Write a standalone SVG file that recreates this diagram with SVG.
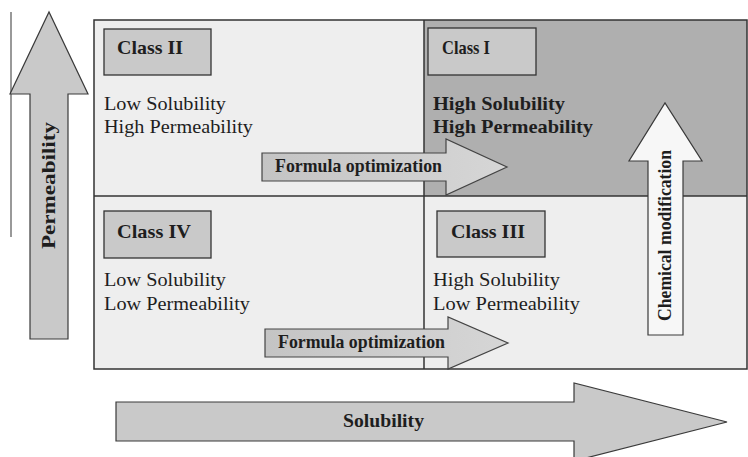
<svg xmlns="http://www.w3.org/2000/svg" width="748" height="457" viewBox="0 0 748 457">
<defs>
<style>
.q{fill:#eeeeee;stroke:none}
.qd{fill:#afafaf;stroke:none}
.grid{stroke:#333;stroke-width:1.5;fill:none}
.cls{fill:#c9c9c9;stroke:#333;stroke-width:1.3}
.t{font-family:"Liberation Serif","Times New Roman",serif;fill:#1e1e1e;font-size:19px}
.b{font-weight:bold}
.arr{fill:#c9c9c9;stroke:#3a3a3a;stroke-width:1.2}
.arrw{fill:#f7f7f7;stroke:#3a3a3a;stroke-width:1.2}
</style>
<linearGradient id="fg" x1="0" y1="0" x2="1" y2="0">
<stop offset="0" stop-color="#c4c4c4"/>
<stop offset="1" stop-color="#d6d6d6"/>
</linearGradient>
</defs>
<rect width="748" height="457" fill="#ffffff"/>
<line x1="11" y1="12" x2="11" y2="237" stroke="#555" stroke-width="1.2"/>

<g id="class-II">
<rect class="q" x="94" y="20" width="330" height="176"/>
<rect class="cls" x="104" y="29" width="107" height="46"/>
<text class="t b" x="117" y="54" textLength="66" lengthAdjust="spacingAndGlyphs" font-size="18.5">Class II</text>
<text class="t" x="104" y="110" textLength="122" lengthAdjust="spacingAndGlyphs">Low Solubility</text>
<text class="t" x="104" y="133" textLength="149" lengthAdjust="spacingAndGlyphs">High Permeability</text>
</g>
<g id="class-I">
<rect class="qd" x="424" y="20" width="323" height="176"/>
<rect class="cls" x="428" y="28" width="108" height="47"/>
<text class="t b" x="442" y="54" textLength="48" lengthAdjust="spacingAndGlyphs" font-size="18.5">Class I</text>
<text class="t b" x="433" y="110" textLength="132" lengthAdjust="spacingAndGlyphs">High Solubility</text>
<text class="t b" x="433" y="133" textLength="160" lengthAdjust="spacingAndGlyphs">High Permeability</text>
</g>
<g id="class-IV">
<rect class="q" x="94" y="196" width="330" height="173"/>
<rect class="cls" x="104" y="211" width="107" height="47"/>
<text class="t b" x="117" y="238" textLength="74" lengthAdjust="spacingAndGlyphs" font-size="18.5">Class IV</text>
<text class="t" x="104" y="286" textLength="122" lengthAdjust="spacingAndGlyphs">Low Solubility</text>
<text class="t" x="104" y="310" textLength="146" lengthAdjust="spacingAndGlyphs">Low Permeability</text>
</g>
<g id="class-III">
<rect class="q" x="424" y="196" width="323" height="173"/>
<rect class="cls" x="437" y="211" width="108" height="46"/>
<text class="t b" x="451" y="238" textLength="74" lengthAdjust="spacingAndGlyphs" font-size="18.5">Class III</text>
<text class="t" x="433" y="286" textLength="127" lengthAdjust="spacingAndGlyphs">High Solubility</text>
<text class="t" x="433" y="310" textLength="147" lengthAdjust="spacingAndGlyphs">Low Permeability</text>
</g>
<g id="grid">
<rect class="grid" x="94" y="20" width="653" height="349"/>
<line class="grid" x1="94" y1="196" x2="747" y2="196"/>
<line class="grid" x1="424" y1="20" x2="424" y2="369"/>
</g>

<g id="connectors">
<g id="formula-optimization-top">
<path d="M262,153 H446 V139 L507,167 L446,195 V181 H262 Z" fill="url(#fg)" stroke="#444" stroke-width="1.2"/>
<text class="t b" x="275" y="172" textLength="167" lengthAdjust="spacingAndGlyphs" font-size="17.5">Formula optimization</text>
</g>
<g id="formula-optimization-bottom">
<path d="M265,329 H448 V317 L508,343 L448,369 V357 H265 Z" fill="url(#fg)" stroke="#444" stroke-width="1.2"/>
<text class="t b" x="278" y="348" textLength="167" lengthAdjust="spacingAndGlyphs" font-size="17.5">Formula optimization</text>
</g>
<g id="chemical-modification">
<path d="M648,335 V161 H629 L665,103 L702,161 H683 V335 Z" class="arrw"/>
<text class="t b" transform="translate(671,321) rotate(-90)" x="0" y="0" textLength="171" lengthAdjust="spacingAndGlyphs" font-size="17.5">Chemical modification</text>
</g>
<g id="permeability-axis">
<path d="M30,339 V94 H10 L49,12 L88,94 H68 V339 Z" class="arr"/>
<text class="t b" transform="translate(55,249) rotate(-90)" x="0" y="0" textLength="127" lengthAdjust="spacingAndGlyphs" font-size="19">Permeability</text>
</g>
<g id="solubility-axis">
<path d="M116,402 H574 V383 L727,422 L574,461 V441 H116 Z" class="arr"/>
<text class="t b" x="343" y="427" textLength="81" lengthAdjust="spacingAndGlyphs" font-size="19">Solubility</text>
</g>
</g>
</svg>
